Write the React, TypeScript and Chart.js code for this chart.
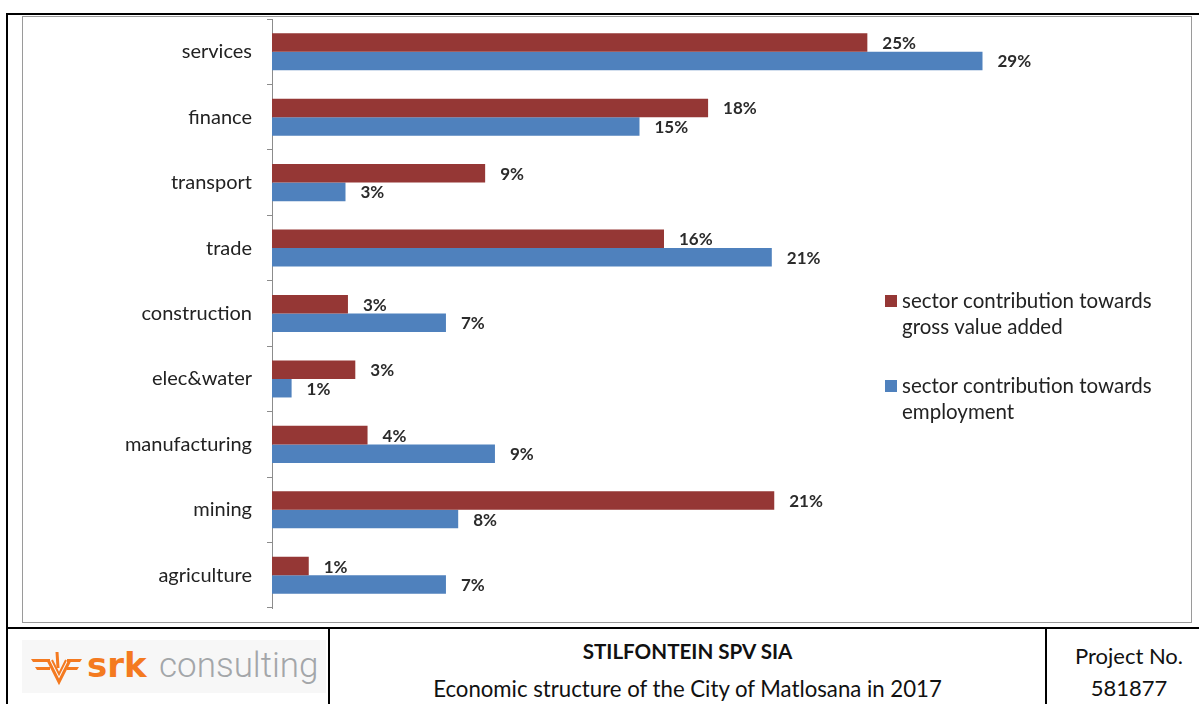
import React, { useEffect, useRef } from "react";
import { Chart, registerables } from "chart.js";

Chart.register(...registerables);

const categories = [
  "services",
  "finance",
  "transport",
  "trade",
  "construction",
  "elec&water",
  "manufacturing",
  "mining",
  "agriculture",
];

// bar lengths (percent)
const gvaValues = [24.3, 17.8, 8.7, 16.0, 3.1, 3.4, 3.9, 20.5, 1.5];
const employmentValues = [29.0, 15.0, 3.0, 20.4, 7.1, 0.8, 9.1, 7.6, 7.1];

// printed data labels
const gvaLabels = ["25%", "18%", "9%", "16%", "3%", "3%", "4%", "21%", "1%"];
const employmentLabels = ["29%", "15%", "3%", "21%", "7%", "1%", "9%", "8%", "7%"];

const seriesNames = [
  "sector contribution towards gross value added",
  "sector contribution towards employment",
];
const seriesColors = ["#953735", "#4F81BD"];
const seriesLabels = [gvaLabels, employmentLabels];

const FONT = "Lato, 'Open Sans', sans-serif";
const TEXT = "#222222";

const dataLabelPlugin = {
  id: "dataLabelPlugin",
  afterDatasetsDraw(chart: any) {
    const ctx = chart.ctx;
    ctx.save();
    ctx.font = `bold 17px ${FONT}`;
    ctx.fillStyle = "#2b2b2b";
    ctx.textAlign = "left";
    ctx.textBaseline = "middle";
    chart.data.datasets.forEach((ds: any, di: number) => {
      const meta = chart.getDatasetMeta(di);
      meta.data.forEach((el: any, i: number) => {
        ctx.fillText(seriesLabels[di][i], el.x + 15, el.y + 1);
      });
    });
    ctx.restore();
  },
};

function wrap(ctx: any, text: string, maxW: number) {
  const words = text.split(" ");
  const lines: string[] = [];
  let cur = "";
  for (const w of words) {
    const t = cur ? cur + " " + w : w;
    if (ctx.measureText(t).width > maxW && cur) {
      lines.push(cur);
      cur = w;
    } else cur = t;
  }
  if (cur) lines.push(cur);
  return lines;
}

const legendPlugin = {
  id: "sideLegend",
  afterDraw(chart: any) {
    const ctx = chart.ctx;
    ctx.save();
    ctx.font = `20.5px ${FONT}`;
    ctx.textBaseline = "middle";
    ctx.textAlign = "left";
    const x0 = 862;
    let y = 284;
    chart.data.datasets.forEach((ds: any, di: number) => {
      ctx.fillStyle = ds.backgroundColor;
      ctx.fillRect(x0, y - 6, 12, 12);
      ctx.fillStyle = TEXT;
      const lines = wrap(ctx, ds.label, 275);
      lines.forEach((ln, li) => ctx.fillText(ln, x0 + 17, y + li * 26.5));
      y += 85;
    });
    ctx.restore();
  },
};

function ChartBox() {
  const ref = useRef<HTMLCanvasElement>(null);
  useEffect(() => {
    if (!ref.current) return;
    const chart = new Chart(ref.current, {
      type: "bar",
      data: {
        labels: categories,
        datasets: [
          {
            label: seriesNames[0],
            data: gvaValues,
            backgroundColor: seriesColors[0],
            categoryPercentage: 0.566,
            barPercentage: 1.0,
          },
          {
            label: seriesNames[1],
            data: employmentValues,
            backgroundColor: seriesColors[1],
            categoryPercentage: 0.566,
            barPercentage: 1.0,
          },
        ],
      },
      options: {
        indexAxis: "y",
        animation: false,
        responsive: false,
        maintainAspectRatio: false,
        layout: { padding: { top: 2, bottom: 14, left: 0, right: 183 } },
        plugins: {
          legend: { display: false },
          tooltip: { enabled: false },
        },
        scales: {
          x: { display: false, min: 0, max: 30 },
          y: {
            afterFit(scale: any) {
              scale.width = 249;
              scale.paddingTop = 0;
              scale.paddingBottom = 0;
            },
            grid: {
              drawOnChartArea: false,
              drawTicks: true,
              tickLength: 5,
              color: "#8c8c8c",
            },
            border: { display: true, color: "#8c8c8c", width: 1 },
            ticks: {
              padding: 15,
              color: TEXT,
              font: { family: FONT, size: 20 },
            },
          },
        },
      } as any,
      plugins: [dataLabelPlugin, legendPlugin],
    });
    return () => chart.destroy();
  }, []);
  return <canvas ref={ref} width={1167} height={605} style={{ display: "block" }} />;
}

function Logo() {
  return (
    <svg width={304} height={53} style={{ position: "absolute", left: 22, top: 640 }}>
      <rect x={0} y={0} width={304} height={53} fill="#f7f7f7" />
      <g fill="#F47A20" stroke="none">
        <polygon points="9,19 28,19 28,22 11,22" />
        <polygon points="13,27 28,27 28,30 15,30" />
        <polygon points="45,19 60,19 58,22 45,22" />
        <polygon points="45,27 57,27 55,30 45,30" />
      </g>
      <g stroke="#F47A20" strokeWidth={3} fill="none">
        <polyline points="26,20 37,42 48,20" />
        <polyline points="30,20 37,34 44,20" strokeWidth={2} />
        <line x1={35} y1={12} x2={36} y2={28} />
      </g>
      <text x={65} y={37} fontFamily="'DejaVu Sans', sans-serif" fontWeight="bold" fontSize={34} fill="#F47A20">
        srk
      </text>
      <text x={137} y={37} fontFamily="Roboto, sans-serif" fontWeight={300} fontSize={35} fill="#A3A6A9">
        consulting
      </text>
    </svg>
  );
}

export default function App() {
  const line = (l: number, t: number, w: number, h: number) => (
    <div style={{ position: "absolute", left: l, top: t, width: w, height: h, background: "#000" }} />
  );
  return (
    <div
      style={{
        position: "absolute",
        left: 0,
        top: 0,
        width: 1199,
        height: 704,
        background: "#fff",
        overflow: "hidden",
        fontFamily: FONT,
        color: "#111",
      }}
    >
      {line(6, 13, 1193, 2)}
      {line(6, 13, 2, 691)}
      {line(6, 627, 1193, 2)}
      {line(328, 627, 2, 77)}
      {line(1045, 627, 2, 77)}
      <div
        style={{
          position: "absolute",
          left: 22,
          top: 16,
          width: 1170,
          height: 607,
          border: "1px solid #9a9a9a",
          boxSizing: "border-box",
          background: "#fff",
        }}
      />
      <div style={{ position: "absolute", left: 23, top: 17 }}>
        <ChartBox />
      </div>
      <Logo />
      <div
        style={{
          position: "absolute",
          left: 330,
          width: 715,
          top: 638,
          textAlign: "center",
          fontWeight: "bold",
          fontSize: 20.6,
          lineHeight: "26px",
        }}
      >
        STILFONTEIN SPV SIA
      </div>
      <div
        style={{
          position: "absolute",
          left: 330,
          width: 715,
          top: 676,
          textAlign: "center",
          fontSize: 22.2,
          lineHeight: "26px",
        }}
      >
        Economic structure of the City of Matlosana in 2017
      </div>
      <div
        style={{
          position: "absolute",
          left: 1047,
          width: 164,
          top: 640,
          textAlign: "center",
          fontSize: 22,
          lineHeight: "32px",
        }}
      >
        Project No.
        <br />
        581877
      </div>
    </div>
  );
}
